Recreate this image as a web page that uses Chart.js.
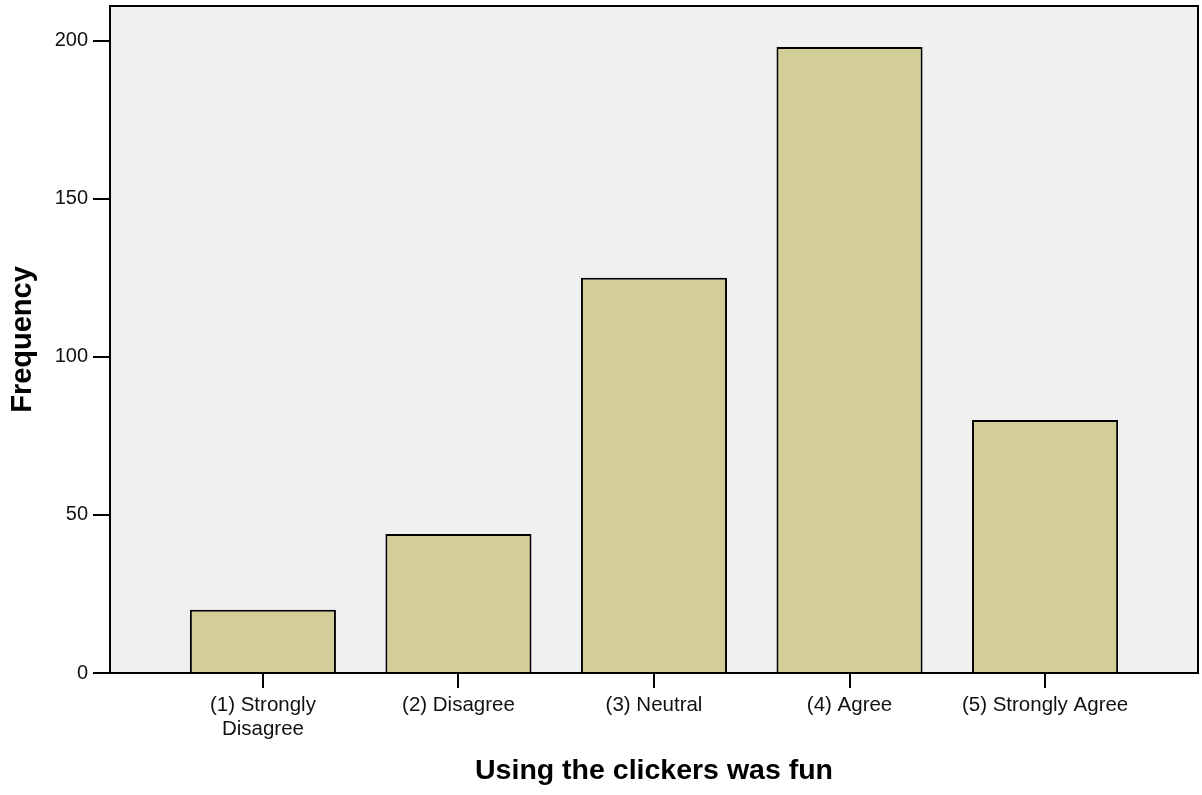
<!DOCTYPE html>
<html>
<head>
<meta charset="utf-8">
<script src="https://cdn.jsdelivr.net/npm/chart.js@4.4.1/dist/chart.umd.min.js"></script>
<style>
  html, body { margin: 0; padding: 0; background: #ffffff; }
  #wrap { width: 1202px; height: 795px; position: relative; }
</style>
</head>
<body>
<div id="wrap"><canvas id="c"></canvas></div>
<script>
// ---- data ----
const categories = [
  ["(1) Strongly", "Disagree"],
  ["(2) Disagree"],
  ["(3) Neutral"],
  ["(4) Agree"],
  ["(5) Strongly Agree"]
];
const categoryPositions = [1, 2, 3, 4, 5];
const frequencies = [20, 44, 125, 198, 80];
const yTickValues = [0, 50, 100, 150, 200];
const xAxisTitle = "Using the clickers was fun";
const yAxisTitle = "Frequency";

const FONT = "'Liberation Sans', Arial, Helvetica, sans-serif";

const frame = {
  id: 'frame',
  beforeDraw(chart) {
    const {ctx, chartArea: a} = chart;
    ctx.save();
    ctx.fillStyle = '#f0f0f0';
    ctx.fillRect(a.left, a.top, a.right - a.left, a.bottom - a.top);
    ctx.restore();
  },
  afterDraw(chart) {
    const {ctx, chartArea: a} = chart;
    ctx.save();
    ctx.strokeStyle = '#000';
    ctx.lineWidth = 2;
    ctx.strokeRect(a.left, a.top, a.right - a.left, a.bottom - a.top);
    ctx.restore();
  }
};

new Chart(document.getElementById('c'), {
  type: 'bar',
  data: {
    datasets: [{
      data: categoryPositions.map((x, i) => ({x: x, y: frequencies[i]})),
      backgroundColor: '#d3ce98',
      borderColor: '#000000',
      borderWidth: 2,
      barPercentage: 0.747,
      categoryPercentage: 1.0
    }]
  },
  options: {
    responsive: true,
    maintainAspectRatio: false,
    animation: false,
    layout: { padding: { top: 6, right: 4, left: 0, bottom: 0 } },
    plugins: { legend: { display: false }, tooltip: { enabled: false } },
    scales: {
      x: {
        type: 'linear',
        offset: false,
        min: 0.218,
        max: 5.782,
        afterBuildTicks: (s) => { s.ticks = categoryPositions.map(v => ({value: v})); },
        afterFit: (s) => { s.height = 122; s.paddingLeft = 0; s.paddingRight = 0; },
        ticks: {
          autoSkip: false,
          maxRotation: 0,
          padding: 6,
          color: '#111',
          font: { family: FONT, size: 20.5, lineHeight: 1.14 },
          callback: (v) => {
            const i = categoryPositions.indexOf(v);
            return i >= 0 ? categories[i] : '';
          }
        },
        grid: {
          offset: false,
          drawOnChartArea: false,
          drawTicks: true,
          tickLength: 15,
          color: '#000',
          lineWidth: 2
        },
        border: { display: true, color: '#000', width: 2 },
        title: {
          display: true,
          text: xAxisTitle,
          color: '#000',
          font: { family: FONT, size: 28.5, weight: 'bold', lineHeight: 1.2 },
          padding: { top: 0, bottom: 7 }
        }
      },
      y: {
        min: 0,
        max: 211,
        afterBuildTicks: (s) => { s.ticks = yTickValues.map(v => ({value: v})); },
        afterFit: (s) => { s.width = 110; s.paddingTop = 0; s.paddingBottom = 0; },
        ticks: {
          padding: 5,
          color: '#111',
          font: { family: FONT, size: 20 }
        },
        grid: {
          drawOnChartArea: false,
          drawTicks: true,
          tickLength: 17,
          color: '#000',
          lineWidth: 2
        },
        border: { display: true, color: '#000', width: 2 },
        title: {
          display: true,
          text: yAxisTitle,
          color: '#000',
          font: { family: FONT, size: 29, weight: 'bold', lineHeight: 1.2 },
          padding: { top: 6, bottom: 0 }
        }
      }
    }
  },
  plugins: [frame]
});
</script>
</body>
</html>
